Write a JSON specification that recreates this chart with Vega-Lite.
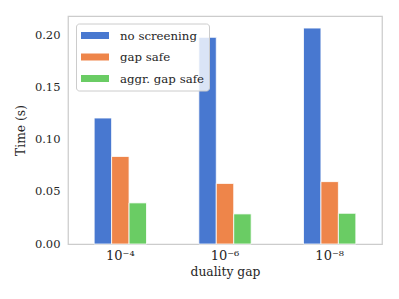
{
  "$schema": "https://vega.github.io/schema/vega-lite/v6.json",
  "autosize": {"type": "none"},
  "padding": {"left": 68, "top": 16, "right": 17, "bottom": 55},
  "width": 314,
  "height": 228,
  "background": "white",
  "config": {
    "font": "DejaVu Serif",
    "view": {"stroke": "#cccccc", "strokeWidth": 1.25},
    "axis": {
      "labelFont": "DejaVu Serif",
      "titleFont": "DejaVu Serif",
      "labelColor": "#262626",
      "titleColor": "#262626",
      "labelFontSize": 11.5,
      "titleFontSize": 12.3,
      "titleFontWeight": "normal",
      "grid": false,
      "ticks": false,
      "domain": false
    },
    "legend": {
      "labelFont": "DejaVu Serif",
      "labelFontSize": 11.75,
      "labelColor": "#262626"
    }
  },
  "data": {
    "values": [
      {"gap": "10⁻⁴", "method": "no screening", "time": 0.121},
      {"gap": "10⁻⁴", "method": "gap safe", "time": 0.0841},
      {"gap": "10⁻⁴", "method": "aggr. gap safe", "time": 0.0395},
      {"gap": "10⁻⁶", "method": "no screening", "time": 0.1985},
      {"gap": "10⁻⁶", "method": "gap safe", "time": 0.0582},
      {"gap": "10⁻⁶", "method": "aggr. gap safe", "time": 0.0289},
      {"gap": "10⁻⁸", "method": "no screening", "time": 0.2074},
      {"gap": "10⁻⁸", "method": "gap safe", "time": 0.0599},
      {"gap": "10⁻⁸", "method": "aggr. gap safe", "time": 0.0295}
    ]
  },
  "mark": {"type": "bar", "stroke": "white", "strokeWidth": 0.8},
  "encoding": {
    "x": {
      "field": "gap",
      "type": "nominal",
      "sort": null,
      "scale": {"paddingInner": 0.5, "paddingOuter": 0.25},
      "axis": {"title": "duality gap", "labelAngle": 0, "labelFontSize": 13, "labelPadding": 5, "titlePadding": 3}
    },
    "xOffset": {
      "field": "method",
      "type": "nominal",
      "sort": ["no screening", "gap safe", "aggr. gap safe"],
      "scale": {"paddingInner": 0, "paddingOuter": 0}
    },
    "y": {
      "field": "time",
      "type": "quantitative",
      "scale": {"domain": [0, 0.219], "nice": false},
      "axis": {"title": "Time (s)", "values": [0, 0.05, 0.1, 0.15, 0.2], "format": ".2f", "labelPadding": 8, "titlePadding": 7}
    },
    "color": {
      "field": "method",
      "type": "nominal",
      "sort": ["no screening", "gap safe", "aggr. gap safe"],
      "scale": {"domain": ["no screening", "gap safe", "aggr. gap safe"], "range": ["#4878d0", "#ee854a", "#6acc64"]},
      "legend": {
        "title": null,
        "orient": "none",
        "legendX": 8,
        "legendY": 7.5,
        "symbolType": "M-1,-0.5H3V0.5H-1Z",
        "symbolSize": 196,
        "symbolStrokeWidth": 0,
        "symbolOpacity": 1,
        "labelFontSize": 11.75,
        "labelFont": "DejaVu Serif",
        "labelColor": "#262626",
        "labelOffset": 25,
        "rowPadding": 7.5,
        "padding": 5,
        "fillColor": "rgba(255,255,255,0.8)",
        "strokeColor": "#cccccc",
        "cornerRadius": 3
      }
    }
  }
}
